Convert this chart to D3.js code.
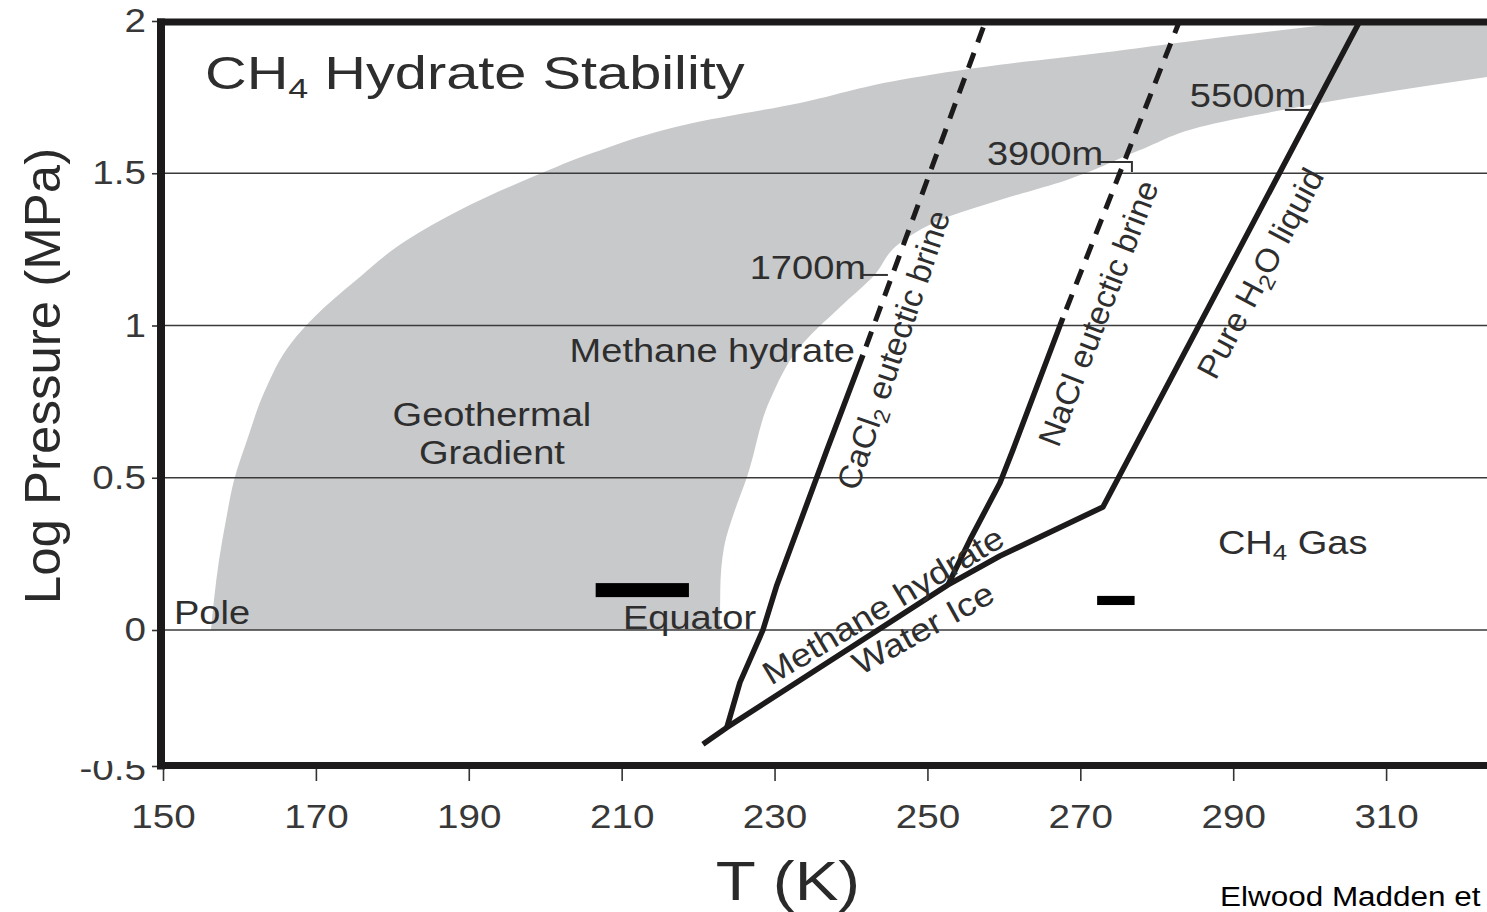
<!DOCTYPE html>
<html>
<head>
<meta charset="utf-8">
<script src="https://cdn.jsdelivr.net/npm/d3@7"></script>
<style>
  body { margin: 0; background: #fff; }
  text { font-family: Arial, "Liberation Sans", Helvetica, sans-serif; }
</style>
</head>
<body>
<svg id="chart" width="1487" height="912"></svg>
<script>
// ---- axis ticks ----
const xTicks = [150, 170, 190, 210, 230, 250, 270, 290, 310];
const yTicks = [0, 0.5, 1, 1.5, 2];
const yGridValues = [0, 0.5, 1, 1.5];

// ---- geothermal gradient band, [T (K), log P (MPa)] ----
// pole-side (upper/left) edge, bottom to top
const bandPoleEdge = [
  [156.28, 0], [156.67, 0.099], [157.33, 0.230], [158.24, 0.361], [159.3, 0.493],
  [161.0, 0.624], [163.2, 0.778], [166.8, 0.943], [169.9, 1.030], [174.85, 1.140],
  [181.92, 1.281], [188.85, 1.379], [198.92, 1.494], [206.25, 1.567], [218.02, 1.658],
  [233.32, 1.731], [246.40, 1.806], [259.48, 1.856], [272.56, 1.895], [285.64, 1.938],
  [298.72, 1.977], [306.57, 2.0]
];
// equator-side (lower/right) edge, right to left
const bandEquatorEdge = [
  [323.2, 1.816], [311.80, 1.773], [298.72, 1.718], [285.64, 1.652], [277.80, 1.576],
  [268.25, 1.478], [259.48, 1.412], [251.63, 1.346], [246.40, 1.271], [242.87, 1.160],
  [238.55, 1.060], [233.32, 0.930], [229.40, 0.755], [226.39, 0.502], [224.82, 0.394],
  [223.4, 0.273], [222.9, 0.131], [222.86, 0]
];

// ---- phase boundaries, [T (K), log P (MPa)] ----
const hydrateIceBoundary = [[220.63, -0.420], [223.77, -0.358], [252.68, 0.148], [259.48, 0.243], [272.96, 0.404]];
const pureWaterBoundary = [[272.96, 0.404], [306.57, 2.0]];
const cacl2Boundary = [[223.77, -0.358], [225.47, -0.193], [228.48, 0], [230.31, 0.148], [232.01, 0.263], [236.85, 0.591], [241.56, 0.903]];
const cacl2Extrapolated = [[241.56, 0.903], [258.2, 2.04]];
const naclBoundary = [[252.68, 0.148], [255.56, 0.296], [259.48, 0.483], [261.18, 0.591], [267.72, 1.025]];
const naclExtrapolated = [[267.72, 1.025], [283.6, 2.04]];

// ---- surface temperature ranges: [Tmin, Tmax] and [Pmin, Pmax] ----
const equatorRange = { t: [206.6, 218.8], p: [0.108, 0.154] };
const secondRange = { t: [272.2, 277.1], p: [0.082, 0.112] };

// ---- layout ----
const W = 1487, H = 912;
const svg = d3.select("#chart");
const x = d3.scaleLinear().domain([150, 323.2]).range([163, 1487]);
const y = d3.scaleLinear().domain([-0.5, 0, 2]).range([766, 630, 21]);

const ink = "#1c1a1b";
const labelInk = "#2e2e2e";
const STRETCH = 1.17;

const defs = svg.append("defs");
defs.append("clipPath").attr("id", "plotClip")
  .append("rect").attr("x", 161).attr("y", 22).attr("width", W - 161).attr("height", 766 - 22);

const plot = svg.append("g").attr("clip-path", "url(#plotClip)");

// geothermal band
const edge = d3.line().x(d => x(d[0])).y(d => y(d[1])).curve(d3.curveMonotoneY);
const bandPath = edge(bandPoleEdge)
  + "L" + x(323.2) + "," + y(2)
  + "L" + edge(bandEquatorEdge).slice(1) + "Z";
plot.append("path").attr("d", bandPath).attr("fill", "#c8c9cb");

// horizontal grid
plot.selectAll("line.grid").data(yGridValues).join("line")
  .attr("class", "grid")
  .attr("x1", x.range()[0] - 4).attr("x2", W)
  .attr("y1", d => y(d)).attr("y2", d => y(d))
  .attr("stroke", "#3a3a3a").attr("stroke-width", 1.4);

// temperature range bars
[equatorRange, secondRange].forEach(r => {
  plot.append("rect")
    .attr("x", x(r.t[0])).attr("width", x(r.t[1]) - x(r.t[0]))
    .attr("y", y(r.p[1])).attr("height", y(r.p[0]) - y(r.p[1]))
    .attr("fill", "#000");
});

// phase boundaries
const bline = d3.line().x(d => x(d[0])).y(d => y(d[1]));
plot.append("path").attr("d", bline(hydrateIceBoundary.concat(pureWaterBoundary.slice(1))))
  .attr("fill", "none").attr("stroke", ink).attr("stroke-width", 5.5).attr("stroke-linejoin", "round");
[cacl2Boundary, naclBoundary].forEach(b => {
  plot.append("path").attr("d", bline(b))
    .attr("fill", "none").attr("stroke", ink).attr("stroke-width", 5.5).attr("stroke-linejoin", "round");
});
[cacl2Extrapolated, naclExtrapolated].forEach(b => {
  plot.append("path").attr("d", bline(b))
    .attr("fill", "none").attr("stroke", ink).attr("stroke-width", 5)
    .attr("stroke-dasharray", "16,11").attr("stroke-dashoffset", -9);
});

// depth leaders
const leader = (pts) => plot.append("path").attr("d", bline(pts))
  .attr("fill", "none").attr("stroke", "#333").attr("stroke-width", 2);
leader([[241.43, 1.166], [244.83, 1.166]]);
leader([[272.56, 1.537], [276.75, 1.537], [276.75, 1.504]]);
leader([[296.76, 1.708], [300.03, 1.708]]);

// ---- frame ----
svg.append("rect").attr("x", 157).attr("y", 18.5).attr("width", W - 157).attr("height", 7).attr("fill", ink);
svg.append("rect").attr("x", 157).attr("y", 18.5).attr("width", 8).attr("height", 751).attr("fill", ink);
svg.append("rect").attr("x", 157).attr("y", 762).attr("width", W - 157).attr("height", 7).attr("fill", ink);

// ---- axes ----
const yAxis = svg.append("g").attr("transform", "translate(157,0)")
  .call(d3.axisLeft(y).tickValues(yTicks).tickSize(5).tickPadding(6).tickFormat(d => String(d)));
const yAxisLow = svg.append("g").attr("transform", "translate(157,0)");
defs.append("clipPath").attr("id", "lowClip")
  .append("rect").attr("x", -157).attr("y", 761).attr("width", 160).attr("height", 60);
yAxisLow.attr("clip-path", "url(#lowClip)")
  .call(d3.axisLeft(y).tickValues([-0.5]).tickSize(5).tickPadding(6).tickFormat(d => String(d)));
yAxisLow.selectAll("text").attr("dy", "0.42em");

const xAxis = svg.append("g").attr("transform", "translate(0,769)")
  .call(d3.axisBottom(x).tickValues(xTicks).tickSize(12).tickPadding(24));

[yAxis, yAxisLow, xAxis].forEach(a => {
  a.select(".domain").remove();
  a.selectAll(".tick line").attr("stroke", "#333").attr("stroke-width", 1.6);
  a.selectAll(".tick text").attr("font-size", 33).attr("fill", "#383838")
    .style("font-family", "Arial, 'Liberation Sans', sans-serif");
});
function stretchText(sel, factor) {
  sel.each(function () {
    const n = this.getComputedTextLength();
    this.setAttribute("textLength", n * factor);
    this.setAttribute("lengthAdjust", "spacingAndGlyphs");
  });
}
stretchText(xAxis.selectAll(".tick text"), STRETCH);
stretchText(yAxis.selectAll(".tick text"), STRETCH);
stretchText(yAxisLow.selectAll(".tick text"), STRETCH);

// ---- labels ----
function label(parts, px, py, o = {}) {
  const fs = o.size || 32.5;
  const t = svg.append("text")
    .attr("x", px).attr("y", py)
    .attr("text-anchor", o.anchor || "middle")
    .attr("font-size", fs)
    .attr("fill", o.color || labelInk);
  if (o.angle) t.attr("transform", `rotate(${o.angle},${px},${py})`);
  let shifted = false;
  parts.forEach((p, i) => {
    const isSub = Array.isArray(p);
    const s = t.append("tspan").text(isSub ? p[0] : p);
    let dy = i === 0 ? 0.36 * fs : 0;
    if (isSub) { s.attr("font-size", fs * (o.subScale || 0.68)); dy += 0.2 * fs; shifted = true; }
    else if (shifted) { dy -= 0.2 * fs; shifted = false; }
    if (dy) s.attr("dy", dy);
  });
  const a = (o.angle || 0) * Math.PI / 180;
  const f = o.stretch !== undefined ? o.stretch : Math.hypot(STRETCH * Math.cos(a), Math.sin(a));
  stretchText(t, f);
  return t;
}

label(["CH", ["4"], " Hydrate Stability"], x(155.49), y(1.780) - 16, { anchor: "start", size: 46, subScale: 0.62, stretch: 1.255 });
label(["Geothermal"], x(193.03), y(0.709));
label(["Gradient"], x(193.03), y(0.585));
label(["Methane hydrate"], x(240.52), y(0.920), { anchor: "end" });
label(["1700m"], x(241.96), y(1.192), { anchor: "end" });
label(["3900m"], x(257.78), y(1.567), { anchor: "start" });
label(["5500m"], x(284.33), y(1.757), { anchor: "start" });
label(["CaCl", ["2"], " eutectic brine"], x(245.49), y(0.920), { angle: -71.4 });
label(["NaCl eutectic brine"], x(272.30), y(1.041), { angle: -69 });
label(["Pure H", ["2"], "O liquid"], x(293.49), y(1.172), { angle: -62 });
label(["Methane hydrate"], x(244.18), y(0.082), { angle: -31 });
label(["Water Ice"], x(249.41), y(0.0066), { angle: -29 });
label(["Pole"], x(151.44), y(0.059), { anchor: "start" });
label(["Equator"], x(210.17), y(0.043), { anchor: "start" });
label(["CH", ["4"], " Gas"], x(288.0), y(0.289), { anchor: "start" });

// axis titles and credit
label(["T (K)"], 788, 880, { size: 56, color: "#2a2a2a" });
label(["Log Pressure (MPa)"], 42, 376, { size: 50, angle: -90, color: "#2a2a2a", stretch: 1.02 });
label(["Elwood Madden et"], 1220, 896, { anchor: "start", size: 27, color: "#000", stretch: 1.165 });
</script>
</body>
</html>
